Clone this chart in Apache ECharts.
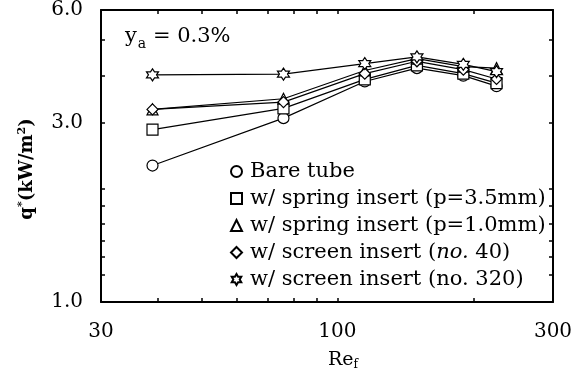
<!DOCTYPE html>
<html>
<head>
<meta charset="utf-8">
<script src="https://cdn.jsdelivr.net/npm/echarts@6/dist/echarts.min.js"></script>
<style>
  html, body { margin: 0; background: #fff; }
  #chart { width: 580px; height: 378px; }
</style>
</head>
<body>
<div id="chart"></div>
<script>
// Re_f values (shared by all series)
const reynolds = [39, 76, 115, 150, 190, 225];
// q* (kW/m2)
const bareTube = [2.31, 3.09, 3.87, 4.20, 4.01, 3.76];
const spring35 = [2.88, 3.28, 3.92, 4.27, 4.06, 3.83];
const spring10 = [3.26, 3.48, 4.14, 4.45, 4.24, 4.20];
const screen40 = [3.26, 3.41, 4.06, 4.38, 4.16, 3.93];
const screen320 = [4.03, 4.05, 4.32, 4.50, 4.30, 4.11];

const seriesNames = [
  'Bare tube',
  'w/ spring insert (p=3.5mm)',
  'w/ spring insert (p=1.0mm)',
  'w/ screen insert (no. 40)',
  'w/ screen insert (no. 320)'
];

const xLabelValues = [30, 100, 300];
const xTickValues = [40, 50, 60, 70, 80, 90, 100, 200];
const yLabelValues = [1, 3, 6];
const yTickValues = [1.18, 1.32, 1.46, 1.62, 1.8, 2, 3, 4, 5];

const hexagram = 'path://M0,-10L2.9,-5L8.66,-5L5.8,0L8.66,5L2.9,5L0,10L-2.9,5L-8.66,5L-5.8,0L-8.66,-5L-2.9,-5Z';
const symbols = ['circle', 'rect', 'triangle', 'diamond', hexagram];
const values = [bareTube, spring35, spring10, screen40, screen320];

const font = 'DejaVu Serif';
const chart = echarts.init(document.getElementById('chart'));

const axisLine = { show: true, lineStyle: { color: '#000', width: 2 } };

function xAxisBase(pos) {
  return {
    type: 'log',
    position: pos,
    min: 30,
    max: 300,
    axisLine: axisLine,
    axisTick: { show: true, inside: true, length: 4, customValues: xTickValues, lineStyle: { color: '#000', width: 1.5 } },
    minorTick: { show: false },
    splitLine: { show: false }
  };
}
function yAxisBase(pos) {
  return {
    type: 'log',
    position: pos,
    min: 1,
    max: 6,
    axisLine: axisLine,
    axisTick: { show: true, inside: true, length: 4, customValues: yTickValues, lineStyle: { color: '#000', width: 1.5 } },
    minorTick: { show: false },
    splitLine: { show: false }
  };
}

chart.setOption({
  animation: false,
  backgroundColor: '#fff',
  grid: { left: 101, right: 27, top: 8, bottom: 76 },
  title: {
    left: 120,
    top: 18,
    text: '{y|y}{s|a}{t| = 0.3%}',
    textStyle: {
      fontWeight: 'normal',
      rich: {
        y: { fontFamily: font, fontSize: 21, fontWeight: 'normal', color: '#000' },
        s: { fontFamily: font, fontSize: 14, fontWeight: 'normal', color: '#000', padding: [14, 0, 0, 1] },
        t: { fontFamily: font, fontSize: 21, fontWeight: 'normal', color: '#000' }
      }
    }
  },
  legend: {
    orient: 'vertical',
    left: 225,
    top: 156,
    itemWidth: 11,
    itemHeight: 11,
    itemGap: 6,
    data: seriesNames.map((n, i) => ({ name: n, icon: symbols[i] })),
    formatter: function (name) {
      if (name === 'w/ screen insert (no. 40)') {
        return '{n|w/ screen insert (}{i|no.}{n| 40)}';
      }
      return '{n|' + name + '}';
    },
    textStyle: {
      fontFamily: font,
      fontSize: 21,
      color: '#000',
      padding: [0, 0, 0, 3],
      rich: {
        n: { fontFamily: font, fontSize: 21, color: '#000', lineHeight: 21 },
        i: { fontFamily: font, fontSize: 21, color: '#000', fontStyle: 'italic', lineHeight: 21 }
      }
    }
  },
  xAxis: [
    Object.assign(xAxisBase('bottom'), {
      name: '{a|Re}{b|f}',
      nameLocation: 'middle',
      nameGap: 47,
      nameTextStyle: {
        padding: [0, 0, 0, 32],
        rich: {
          a: { fontFamily: font, fontSize: 19, color: '#000' },
          b: { fontFamily: font, fontSize: 12, color: '#000', padding: [10, 0, 0, 0] }
        }
      },
      axisLabel: {
        customValues: xLabelValues,
        margin: 20,
        fontFamily: font,
        fontSize: 20,
        color: '#000',
        formatter: v => String(Math.round(v))
      }
    }),
    Object.assign(xAxisBase('top'), { axisLabel: { show: false } })
  ],
  yAxis: [
    Object.assign(yAxisBase('left'), {
      name: '{q|q}{p|*}{q|(kW/m}{p|2}{q|)}',
      nameLocation: 'middle',
      nameGap: 64,
      nameRotate: 90,
      nameTextStyle: {
        padding: [0, 26, 0, 0],
        rich: {
          q: { fontFamily: font, fontSize: 18, fontWeight: 'bold', color: '#000' },
          p: { fontFamily: font, fontSize: 11, fontWeight: 'bold', color: '#000', padding: [0, 0, 9, 0] }
        }
      },
      axisLabel: {
        customValues: yLabelValues,
        margin: 18,
        fontFamily: font,
        fontSize: 20,
        color: '#000',
        padding: [6, 0, 0, 0],
        formatter: v => Number(v).toFixed(1)
      }
    }),
    Object.assign(yAxisBase('right'), { axisLabel: { show: false } })
  ],
  series: seriesNames.map((n, i) => ({
    type: 'line',
    name: n,
    xAxisIndex: 0,
    yAxisIndex: 0,
    data: reynolds.map((r, k) => [r, values[i][k]]),
    symbol: symbols[i],
    symbolSize: i === 4 ? 12 : 11,
    lineStyle: { color: '#000', width: 1.2 },
    itemStyle: { color: '#fff', borderColor: '#000', borderWidth: 1.2 },
    z: 2 + i
  }))
});
</script>
</body>
</html>
